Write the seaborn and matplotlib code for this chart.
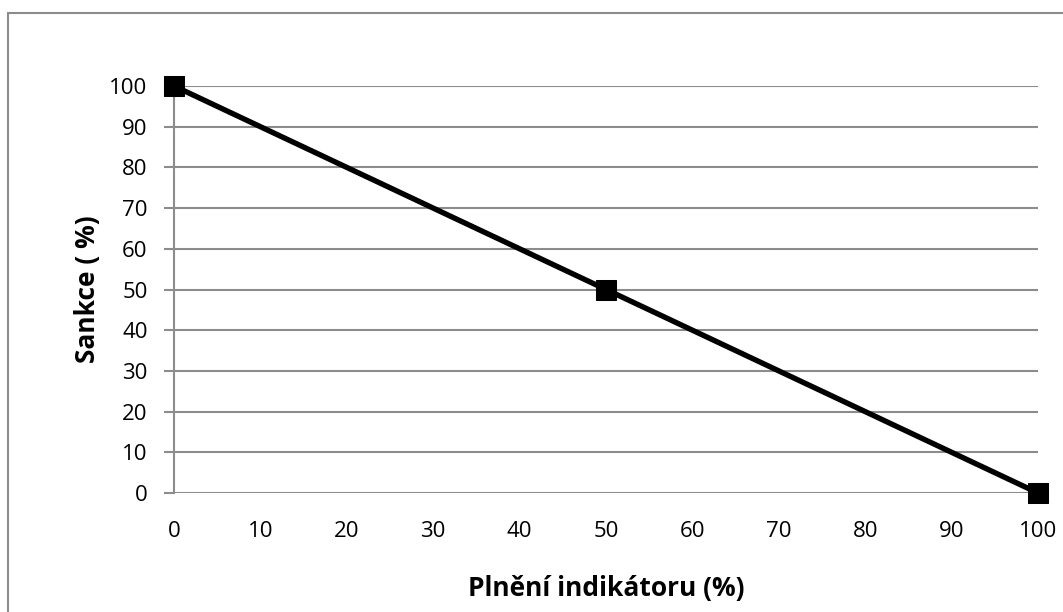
import numpy as np
import pandas as pd
import seaborn as sns
import matplotlib.pyplot as plt
from matplotlib.patches import Rectangle

# Data
plneni = [0, 50, 100]
sankce = [100, 50, 0]
ticks = list(range(0, 101, 10))

df = pd.DataFrame({'Plneni': plneni, 'Sankce': sankce})

sns.set_style('white')
plt.rcParams['font.family'] = ['Open Sans', 'DejaVu Sans']

fig = plt.figure(figsize=(10.63, 6.12), dpi=100)
ax = fig.add_axes([174 / 1063, 1 - 493 / 612, (1038 - 174) / 1063, (493 - 86) / 612])

sns.lineplot(data=df, x='Plneni', y='Sankce', ax=ax, color='black', linewidth=3.9,
             marker='s', markersize=14, markeredgecolor='black', clip_on=False, zorder=5)

ax.set_xlim(0, 100)
ax.set_ylim(0, 100)
ax.set_xticks(ticks)
ax.set_yticks(ticks)
ax.tick_params(axis='y', length=7, width=1.5, color='#8c8c8c', labelcolor='black',
               labelsize=16, pad=12, direction='out', left=True)
ax.tick_params(axis='x', length=0, labelcolor='black', labelsize=16, pad=20)
ax.grid(axis='y', color='#8c8c8c', linewidth=1.5)
ax.grid(axis='x', visible=False)
for s in ['top', 'right', 'bottom']:
    ax.spines[s].set_visible(False)
ax.spines['left'].set_color('#8c8c8c')
ax.spines['left'].set_linewidth(1.5)

ax.set_xlabel('Plnění indikátoru (%)', fontsize=19, fontweight='bold', labelpad=24, color='black')
ax.set_ylabel('Sankce ( %)', fontsize=19, fontweight='bold', labelpad=6, color='black')

# outer chart border (runs past the right and bottom edges)
fig.add_artist(Rectangle((8 / 1063, -0.05), 1.05, 1.05 - 13 / 612,
                         transform=fig.transFigure, fill=False, edgecolor='#8c8c8c', linewidth=1.5))

fig.savefig('out.png', dpi=100)
